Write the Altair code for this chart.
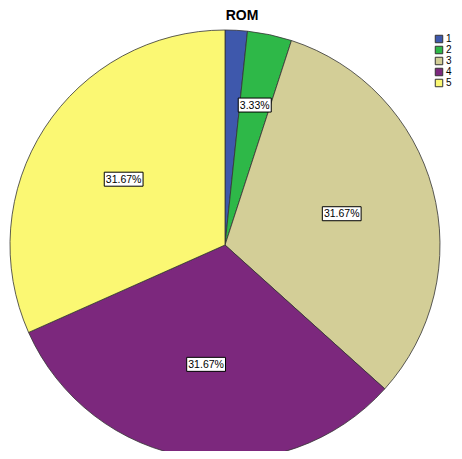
import altair as alt
import pandas as pd

categories = ["1", "2", "3", "4", "5"]
counts = [1, 2, 19, 19, 19]
labels = ["", "3.33%", "31.67%", "31.67%", "31.67%"]
colors = ["#3E58AC", "#2EB848", "#D3CE97", "#7C287D", "#FBF873"]
title_text = "ROM"

W, H = 446, 443
CX, CY, R = 217, 237, 215

df = pd.DataFrame({"cat": categories, "count": counts, "label": labels})

base = alt.Chart(df)

pie = base.mark_arc(outerRadius=R, stroke="#333333", strokeWidth=0.8).encode(
    theta=alt.Theta("count:Q", stack=True),
    color=alt.Color(
        "cat:N",
        scale=alt.Scale(domain=categories, range=colors),
        legend=alt.Legend(
            title=None,
            orient="none",
            legendX=426,
            legendY=26,
            padding=0,
            symbolType="square",
            symbolSize=56,
            symbolStrokeColor="#333333",
            symbolStrokeWidth=1,
            labelFontSize=10,
            labelFont="Liberation Sans",
            labelColor="#000000",
            labelOffset=2,
            rowPadding=-1,
        ),
    ),
    order=alt.Order("cat:N"),
    x=alt.value(CX),
    y=alt.value(CY),
)

lab = (
    base.transform_joinaggregate(total="sum(count)")
    .transform_window(cum="sum(count)", sort=[alt.SortField("cat")], frame=[None, 0])
    .transform_calculate(
        mid="(datum.cum - datum.count/2) / datum.total * 2 * PI",
        half="datum.count / datum.total * PI",
    )
    .transform_calculate(d=f"2 * {R} * sin(datum.half) / (3 * datum.half)")
    .transform_calculate(
        lx=f"{CX} + datum.d * sin(datum.mid)",
        ly=f"{CY} - datum.d * cos(datum.mid)",
        hw="length(datum.label) * 2.9 + 2",
    )
    .transform_calculate(
        x1="datum.lx - datum.hw",
        x2="datum.lx + datum.hw",
        y1="datum.ly - 7",
        y2="datum.ly + 7",
    )
    .transform_filter("datum.label != ''")
)

xs = alt.Scale(domain=[0, W], range=[0, W], nice=False, zero=False)
ys = alt.Scale(domain=[0, H], range=[0, H], nice=False, zero=False)

boxes = lab.mark_rect(fill="white", stroke="#000000", strokeWidth=1).encode(
    x=alt.X("x1:Q", scale=xs, axis=None),
    x2="x2:Q",
    y=alt.Y("y1:Q", scale=ys, axis=None),
    y2="y2:Q",
)

texts = lab.mark_text(
    fontSize=10.5, font="Liberation Sans", color="#000000", align="center", baseline="middle", dy=0.5
).encode(
    x=alt.X("lx:Q", scale=xs, axis=None),
    y=alt.Y("ly:Q", scale=ys, axis=None),
    text="label:N",
)

title = alt.Chart(pd.DataFrame({"t": [title_text]})).mark_text(
    fontSize=14, fontWeight="bold", font="Liberation Sans", color="#000000",
    align="center", baseline="alphabetic",
).encode(x=alt.value(234), y=alt.value(12), text="t:N")

chart = (
    alt.layer(pie, boxes, texts, title)
    .properties(width=W, height=H, autosize=alt.AutoSizeParams(type="none"), padding=0)
    .configure_view(stroke=None)
)

chart.save("out.html", embed_options={"renderer": "svg", "actions": False})
